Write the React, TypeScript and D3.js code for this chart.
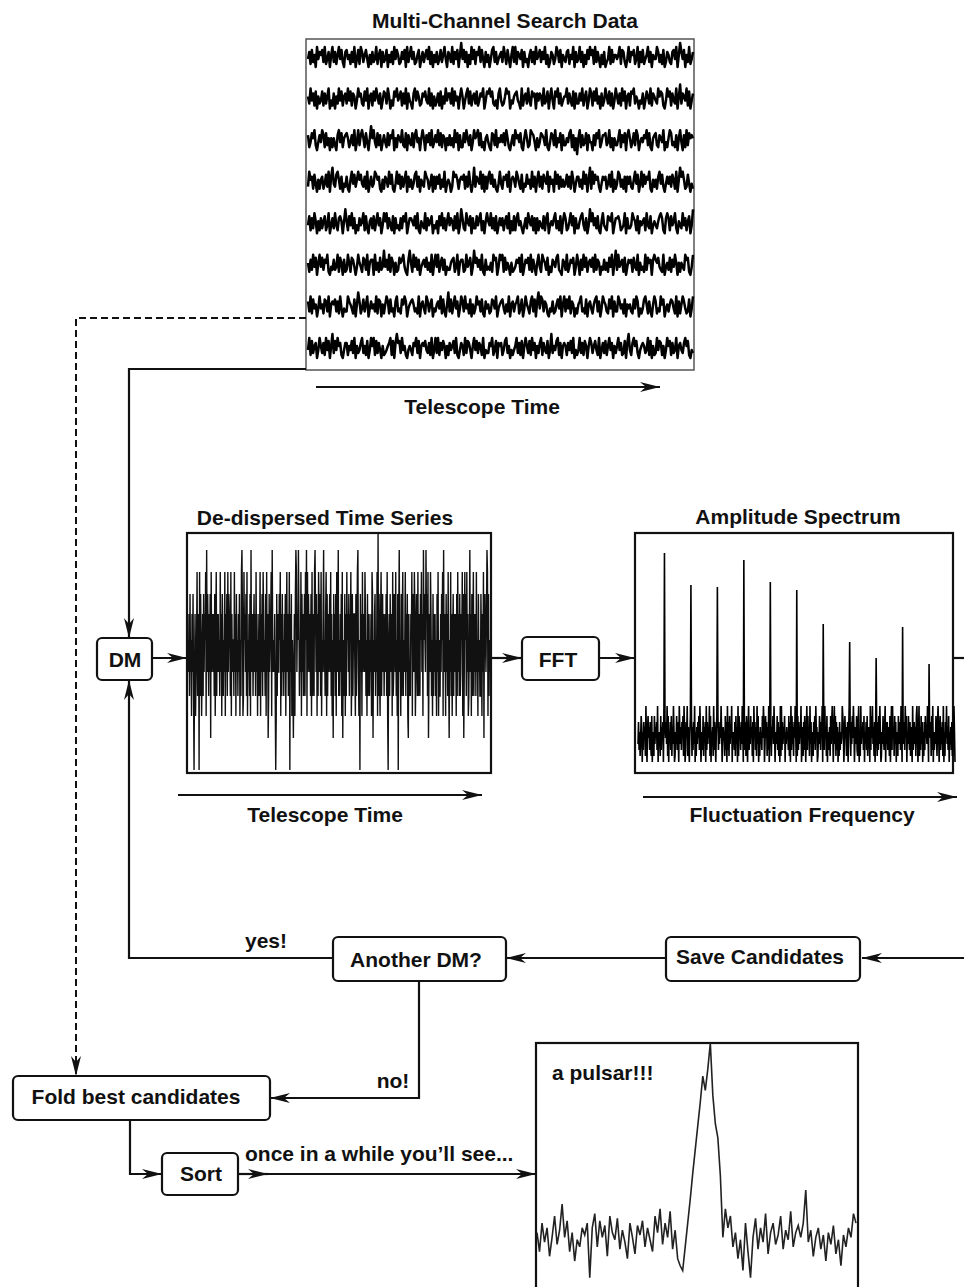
import React from 'react';
import * as d3 from 'd3';

// ---------- data ----------
// eight raw filterbank channels (one sample per digit)
const channelNoise: string[] = [
  '4627351846 5738246158 3625847316 7452638147 2863574152 6348257163 4715362847 5236471835 8462357146 3574826153 6247358416 5382647159 4736152847 2658374163 5147836245 6385274158 3826547163 4157362845 7364825136 5248637154 3672548163 4836152748 5728364152 6134827355 4582763148 3657248163 7245836154 4863527136 5326748159 6471538246',
  '5384627153 4726358142 6153847256 3847265148 5632748156 2748536147 6385142758 4572638164 3168475236 5743826152 4627153846 6382745158 5146837256 3724658147 6857324168 4235867143 5674318256 3842756164 6528347158 4175836245 5836427163 3648257148 6274835162 4853726148 5362847156 2768354143 6147538265 4385762148 5726438159 3654827146',
  '6247583146 4862735152 5316847256 7524638148 3685274159 5842736146 4273658152 6548327164 3726845158 5164738246 4837265153 6352847162 2748536148 5683724156 4217638254 6473852146 3856472158 5238764152 4765382147 6382547163 3547826150 5826347164 4163758246 6734825153 3582647168 5247386145 4658372156 7326548142 5873426158 4162837565',
  '3856274152 5624738169 4378526143 6215847358 5743628146 3487562152 6538472148 4726358163 5247836154 3865247162 6472538145 4138675256 5726384149 3654827162 6847352148 4265738156 5386427143 7452836158 3627548164 5184726353 4736285146 6352847159 2847563146 5624738152 4873526164 6325847148 3746582153 5268473146 4637528159 6852374142',
  '4726385152 6357248146 3842675159 5274836142 6458273156 3725846148 5836427163 4263758146 6547382154 3826457143 5174836258 4652738149 6328547163 3746825158 5483627146 4625738152 7268453146 3854726162 5437268145 4683527158 6235847163 3578426149 5846372158 4327658146 6752348163 3486527154 5628437145 4357862168 6274583154 3846257149',
  '5263847158 4736582143 6348275162 3852764148 5427638156 6183527349 4638275152 3756842169 5284736145 6473528158 4825736143 3567248156 6238457149 5746382163 4352867148 6827354152 3465728146 5738264158 4286537142 6547832165 3824657148 5163847256 4728365143 6352748159 3845627146 5627438153 4283756168 6574328145 3726485152 5438672148',
  '6382745148 4527638156 5736284143 3865427159 6247358146 4538276152 5862734168 3427586145 6753428156 4286357143 5648273159 3725846148 6384527152 4856372164 5237648145 6742538156 3568247148 5426837169 4873652143 6235748158 3748265142 5683427156 4257836148 6532748163 3864527154 5327486142 4785263158 6243857145 3576428162 5864237148',
  '4827356148 5362847159 3748562146 6254738153 4683527148 5827364152 3456827169 6738452145 4265837156 5743628148 3826475152 6457382146 5283764158 4736528143 3658247165 6247835142 4583627158 5372846153 6826437149 3547826156 5264738142 4836275158 6357428146 3725846153 5846237169 4268573145 6534827152 3847625148 5726348156 4368572143',
];
// sample level (digit) -> vertical offset in a channel
const channelLevels = [-14, -10, -7, -5, -2, 2, 5, 7, 10, 14];

// de-dispersed time series
const dedispersedNoise =
  '5463745264 7304624583 4608375246 3746582947 5364718456 4637258364 6453846275 3548264738 4765382645 5384627453 ' +
  '6472538962 3856473825 4637294563 5746384526 4358264738 6453728461 3745682954 5463027364 4758263745 3647258463 ' +
  '5806472541 4627984659 6354827463 4738592847 5463728364 3896472638 6473825469 4536827364 5748362517 4637285493 ' +
  '5364728153 4726385647 3658247356 6427358942 5074628465 4863527346 3546287154 6735482637 4268357463 5647382056 ' +
  '3754628347 6483527069 4527368354 5836472163 4365827548 6247538364 3758462957 5496738146 4863527364 6352748253 ' +
  '3647582946 5274638415 4836257364 6527384637 3465827148 5738462359 4627358364 6384527453 3752648167 5469827354';
const dedispersedLevels = [770, 738, 716, 696, 672, 640, 614, 594, 572, 550];
const dedispersedSpike = { index: 377, y: 534 };

// amplitude spectrum: noise floor + harmonics
const spectrumNoise =
  '3725148605 2746193058 4627318052 1836472905 3518264709 2647391805 4728163950 1538274096 3627481950 2749163058 ' +
  '4816273905 1637482950 3528164709 2736491805 4619273058 1827364950 3645182709 2718364905 4527183609 1846273950 ' +
  '3627184059 2538461709 4726193805 1635284970 3847162905 2716483950 4538271609 1927364805 3645281709 2836174950 ' +
  '5182736490 3617284059 2846193705 4173829560 1538627490 3729461805 2461837950 4938172605 1725349860 3846127059 ' +
  '2517384960 4638217905 1936472805 3728146509 2849361705 4617283950 1538426907 3724618059 2946183705 4185372960 ' +
  '1637294805 3852716409 2473618950 4916283705 1728463950 3647182905 2538417960 4826371905 1749362805 3627148950';
const spectrumLevels = [1, 7, 13, 19, 25, 31, 36, 41, 47, 57];
const harmonicBins = [50, 100, 150, 200, 250, 300, 350, 400, 450, 500, 550];
const harmonicAmps = [210, 178, 176, 203, 181, 173, 139, 121, 105, 136, 99];

// folded pulse profile
const pulsarProfile = [
  20, 12, 24, 16, 22, 10, 18, 27, 15, 21, 32, 18, 25, 12, 20, 8, 17, 14, 22, 19,
  24, 1, 22, 28, 14, 25, 18, 23, 10, 27, 20, 17, 26, 13, 21, 16, 9, 24, 18, 11,
  23, 19, 25, 14, 22, 17, 12, 27, 20, 30, 15, 24, 18, 29, 13, 21, 9, 6, 4, 14,
  24, 34, 45, 55, 65, 75, 86, 80, 89, 100, 78, 66, 60, 44, 18, 30, 22, 27, 14, 20,
  9, 17, 4, 24, 12, 1, 18, 26, 13, 22, 16, 28, 11, 20, 24, 15, 19, 27, 13, 21,
  17, 29, 14, 20, 23, 18, 24, 38, 16, 21, 10, 18, 22, 13, 19, 8, 20, 15, 23, 11,
  17, 6, 19, 14, 22, 18, 28, 24,
];

// ---------- drawing ----------
const FONT = '"Liberation Sans", Arial, Helvetica, sans-serif';
const DIGITS = d3.range(10);
const parse = (s: string) => s.replace(/\s+/g, '').split('').map(Number);

const Label = ({ x, y, children, anchor = 'middle' }: any) => (
  <text x={x} y={y} textAnchor={anchor} fontFamily={FONT} fontWeight="bold" fontSize={21} fill="#111">
    {children}
  </text>
);

const RBox = ({ x, y, w, h }: any) => (
  <rect x={x} y={y} width={w} height={h} rx={5} ry={5} fill="#fff" stroke="#111" strokeWidth={2.2} />
);

export default function App() {
  // multi-channel data
  const chanY = d3.scalePoint<number>().domain(d3.range(8)).range([57, 348]);
  const chanSeries = channelNoise.map(parse);
  const chanX = d3.scaleLinear().domain([0, chanSeries[0].length - 1]).range([308, 693]);
  const chanOff = d3.scaleLinear().domain(DIGITS).range(channelLevels.map((v) => -v));
  const chanPaths = chanSeries.map((vals, c) =>
    d3.line<number>().x((_, i) => chanX(i)).y((v) => (chanY(c) as number) + chanOff(v))(vals) as string
  );

  // de-dispersed
  const dd = parse(dedispersedNoise);
  const ddX = d3.scaleLinear().domain([0, dd.length - 1]).range([188, 490]);
  const ddY = d3.scaleLinear().domain(DIGITS).range(dedispersedLevels);
  const ddPath = d3
    .line<number>()
    .x((_, i) => ddX(i))
    .y((v, i) => (i === dedispersedSpike.index ? dedispersedSpike.y : ddY(v)))(dd) as string;

  // spectrum
  const spLevel = d3.scaleLinear().domain(DIGITS).range(spectrumLevels);
  const sp = parse(spectrumNoise).map((d) => spLevel(d));
  harmonicBins.forEach((b, i) => (sp[b] = harmonicAmps[i]));
  const spX = d3.scaleLinear().domain([0, sp.length - 1]).range([638, 955]);
  const spY = d3.scaleLinear().domain([0, 230]).range([763, 533]);
  const spPath = d3.line<number>().x((_, i) => spX(i)).y((v) => spY(v))(sp) as string;

  // pulsar
  const pX = d3.scaleLinear().domain([0, pulsarProfile.length - 1]).range([537, 856]);
  const pY = d3.scaleLinear().domain([0, 100]).range([1280, 1043]);
  const pPath = d3.line<number>().x((_, i) => pX(i)).y((v) => pY(v))(pulsarProfile) as string;

  const conn = { stroke: '#111', strokeWidth: 2.2, fill: 'none' } as const;
  const arrow = { ...conn, markerEnd: 'url(#ah)' } as const;

  return (
    <svg width={964} height={1287} style={{ position: 'absolute', left: 0, top: 0, background: '#fff' }}>
      <defs>
        <marker id="ah" viewBox="0 0 20 10" refX={20} refY={5} markerWidth={20} markerHeight={10}
          markerUnits="userSpaceOnUse" orient="auto">
          <path d="M0,0 L20,5 L0,10 L6,5 Z" fill="#111" />
        </marker>
      </defs>
      <rect x={0} y={0} width={964} height={1287} fill="#fff" />

      {/* Multi-channel search data */}
      <Label x={505} y={28}>Multi-Channel Search Data</Label>
      <rect x={306} y={39} width={388} height={331} fill="#fff" stroke="#555" strokeWidth={1.5} />
      {chanPaths.map((d, i) => (
        <path key={i} d={d} fill="none" stroke="#000" strokeWidth={2.5} strokeLinejoin="round" />
      ))}
      <line x1={316} y1={387} x2={660} y2={387} {...arrow} />
      <Label x={482} y={414}>Telescope Time</Label>

      {/* dashed path to Fold */}
      <path d="M306,318 L76,318 L76,1076" {...conn} strokeWidth={2} strokeDasharray="7,4" markerEnd="url(#ah)" />
      {/* solid path to DM */}
      <path d="M306,369 L129,369 L129,638" {...arrow} />

      {/* DM box */}
      <RBox x={97} y={638} w={55} h={42} />
      <Label x={125} y={667}>DM</Label>
      <line x1={152} y1={658} x2={187} y2={658} {...arrow} />

      {/* de-dispersed time series */}
      <Label x={325} y={525}>De-dispersed Time Series</Label>
      <rect x={187} y={533} width={304} height={240} fill="#fff" stroke="#111" strokeWidth={2.2} />
      <path d={ddPath} fill="none" stroke="#111" strokeWidth={1.4} />
      <line x1={178} y1={795} x2={482} y2={795} {...arrow} />
      <Label x={325} y={822}>Telescope Time</Label>
      <line x1={491} y1={658} x2={522} y2={658} {...arrow} />

      {/* FFT */}
      <RBox x={522} y={637} w={77} h={43} />
      <Label x={558} y={667}>FFT</Label>
      <line x1={599} y1={658} x2={635} y2={658} {...arrow} />

      {/* amplitude spectrum */}
      <Label x={798} y={524}>Amplitude Spectrum</Label>
      <rect x={635} y={533} width={318} height={240} fill="#fff" stroke="#111" strokeWidth={2.2} />
      <path d={spPath} fill="none" stroke="#000" strokeWidth={1.6} />
      <line x1={643} y1={797} x2={957} y2={797} {...arrow} />
      <Label x={802} y={822}>Fluctuation Frequency</Label>
      <line x1={953} y1={658} x2={964} y2={658} {...conn} />

      {/* Save candidates / Another DM */}
      <line x1={964} y1={958} x2={862} y2={958} {...arrow} />
      <RBox x={666} y={937} w={194} h={44} />
      <Label x={760} y={964}>Save Candidates</Label>
      <line x1={666} y1={958} x2={506} y2={958} {...arrow} />
      <RBox x={333} y={937} w={173} h={44} />
      <Label x={416} y={967}>Another DM?</Label>
      <path d="M333,958 L129,958 L129,680" {...arrow} />
      <Label x={266} y={948}>yes!</Label>

      {/* no -> fold */}
      <path d="M419,981 L419,1098 L270,1098" {...arrow} />
      <Label x={393} y={1088}>no!</Label>
      <RBox x={13} y={1076} w={257} h={44} />
      <Label x={136} y={1104}>Fold best candidates</Label>

      {/* sort */}
      <path d="M130,1120 L130,1174 L162,1174" {...arrow} />
      <RBox x={162} y={1153} w={76} h={42} />
      <Label x={201} y={1181}>Sort</Label>
      <line x1={238} y1={1174} x2={268} y2={1174} {...arrow} />
      <line x1={268} y1={1174} x2={536} y2={1174} {...arrow} />
      <Label x={245} y={1161} anchor="start">once in a while you’ll see...</Label>

      {/* pulsar */}
      <rect x={536} y={1043} width={322} height={260} fill="#fff" stroke="#111" strokeWidth={2.2} />
      <path d={pPath} fill="none" stroke="#222" strokeWidth={1.6} />
      <Label x={552} y={1080} anchor="start">a pulsar!!!</Label>
    </svg>
  );
}
